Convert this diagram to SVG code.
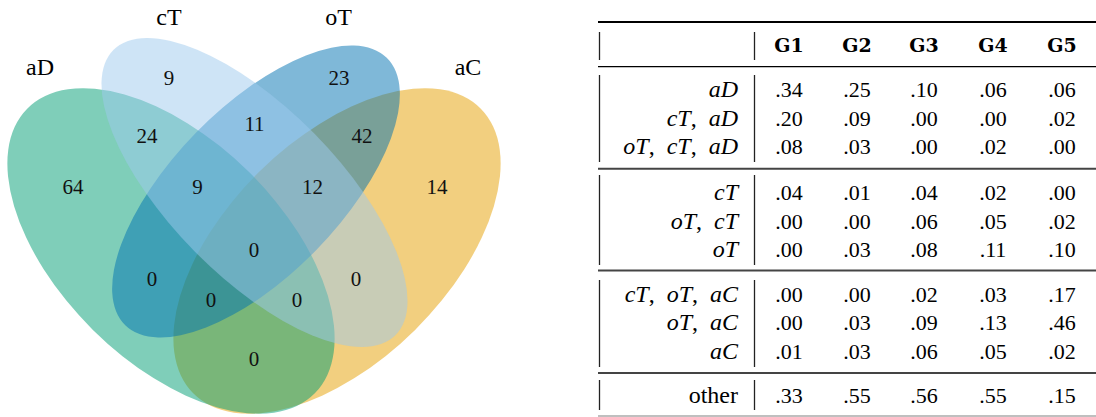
<svg xmlns="http://www.w3.org/2000/svg" width="1096" height="417" viewBox="0 0 1096 417">
<style>
.set{fill-opacity:0.5;stroke:none}
.lbl{font-family:"Liberation Serif","Times New Roman",serif;font-size:24px;fill:#000;text-anchor:middle}
.num{font-family:"Liberation Serif","Times New Roman",serif;font-size:21px;fill:#111;text-anchor:middle}
.th{font-family:"DejaVu Serif","Liberation Serif",serif;font-weight:bold;font-size:19px;fill:#000;text-anchor:middle}
.td{font-family:"Liberation Serif","Times New Roman",serif;font-size:22px;fill:#000;text-anchor:middle}
.rl{font-family:"Liberation Serif","Times New Roman",serif;font-style:italic;font-size:24px;fill:#000;text-anchor:end;word-spacing:6px}
.up{font-style:normal}
.bar{stroke:#222;stroke-width:1.3}
.sep{stroke:#444;stroke-width:2}
</style>
<rect width="1096" height="417" fill="#fff"/>
<g id="venn">
  <g id="set-aC">
    <ellipse class="set" cx="337" cy="251" rx="202.3" ry="111" transform="rotate(-44.7 337 251)" fill="#E69F00"/>
    <text class="lbl" x="468" y="75">aC</text>
  </g>
  <g id="set-aD">
    <ellipse class="set" cx="171" cy="251" rx="202.3" ry="111" transform="rotate(44.7 171 251)" fill="#009E73"/>
    <text class="lbl" x="40" y="75">aD</text>
  </g>
  <g id="set-oT">
    <ellipse class="set" cx="256" cy="191.5" rx="187" ry="84" transform="rotate(-45.65 256 191.5)" fill="#0072B2"/>
    <text class="lbl" x="338.5" y="25">oT</text>
  </g>
  <g id="set-cT">
    <ellipse class="set" cx="254.5" cy="192.5" rx="200.6" ry="84" transform="rotate(45.4 254.5 192.5)" fill="#9ECAED"/>
    <text class="lbl" x="169" y="25">cT</text>
  </g>
  <g id="counts">
    <text class="num" x="169" y="85">9</text>
    <text class="num" x="339" y="85">23</text>
    <text class="num" x="254.5" y="131">11</text>
    <text class="num" x="147" y="143">24</text>
    <text class="num" x="362" y="143">42</text>
    <text class="num" x="73" y="194">64</text>
    <text class="num" x="197.5" y="194">9</text>
    <text class="num" x="312.5" y="194">12</text>
    <text class="num" x="437" y="194">14</text>
    <text class="num" x="254" y="257">0</text>
    <text class="num" x="152" y="286">0</text>
    <text class="num" x="356" y="286">0</text>
    <text class="num" x="211" y="307">0</text>
    <text class="num" x="297" y="307">0</text>
    <text class="num" x="254" y="366">0</text>
  </g>
</g>
<g id="connectors"/>
<g id="table">
  <g id="rules">
    <line x1="598" y1="22" x2="1096" y2="22" stroke="#000" stroke-width="2"/>
    <line x1="598" y1="66.7" x2="1096" y2="66.7" stroke="#000" stroke-width="1.3"/>
    <line class="sep" x1="598" y1="168.7" x2="1096" y2="168.7"/>
    <line class="sep" x1="598" y1="270.5" x2="1096" y2="270.5"/>
    <line class="sep" x1="598" y1="373" x2="1096" y2="373"/>
    <line x1="598" y1="416" x2="1096" y2="416" stroke="#aaa" stroke-width="1.3"/>
    <line class="bar" x1="599.5" y1="32" x2="599.5" y2="60"/>
    <line class="bar" x1="754.5" y1="32" x2="754.5" y2="60"/>
    <line class="bar" x1="599.5" y1="75" x2="599.5" y2="162"/>
    <line class="bar" x1="754.5" y1="75" x2="754.5" y2="162"/>
    <line class="bar" x1="599.5" y1="175" x2="599.5" y2="265"/>
    <line class="bar" x1="754.5" y1="175" x2="754.5" y2="265"/>
    <line class="bar" x1="599.5" y1="280" x2="599.5" y2="367"/>
    <line class="bar" x1="754.5" y1="280" x2="754.5" y2="367"/>
    <line class="bar" x1="599.5" y1="380" x2="599.5" y2="410"/>
    <line class="bar" x1="754.5" y1="380" x2="754.5" y2="410"/>
  </g>
  <g id="header">
    <text class="th" x="789" y="52">G1</text>
    <text class="th" x="857" y="52">G2</text>
    <text class="th" x="924" y="52">G3</text>
    <text class="th" x="993" y="52">G4</text>
    <text class="th" x="1062" y="52">G5</text>
  </g>
  <g id="row-labels">
    <text class="rl" x="738" y="97">aD</text>
    <text class="rl" x="738" y="125.5">cT<tspan class="up">,</tspan> aD</text>
    <text class="rl" x="738" y="154">oT<tspan class="up">,</tspan> cT<tspan class="up">,</tspan> aD</text>
    <text class="rl" x="738" y="200">cT</text>
    <text class="rl" x="738" y="228.5">oT<tspan class="up">,</tspan> cT</text>
    <text class="rl" x="738" y="257">oT</text>
    <text class="rl" x="738" y="302">cT<tspan class="up">,</tspan> oT<tspan class="up">,</tspan> aC</text>
    <text class="rl" x="738" y="330">oT<tspan class="up">,</tspan> aC</text>
    <text class="rl" x="738" y="358.5">aC</text>
    <text class="rl up" x="738" y="403">other</text>
  </g>
  <g id="values">
    <text class="td" y="97"><tspan x="789">.34</tspan><tspan x="857">.25</tspan><tspan x="924">.10</tspan><tspan x="993">.06</tspan><tspan x="1062">.06</tspan></text>
    <text class="td" y="125.5"><tspan x="789">.20</tspan><tspan x="857">.09</tspan><tspan x="924">.00</tspan><tspan x="993">.00</tspan><tspan x="1062">.02</tspan></text>
    <text class="td" y="154"><tspan x="789">.08</tspan><tspan x="857">.03</tspan><tspan x="924">.00</tspan><tspan x="993">.02</tspan><tspan x="1062">.00</tspan></text>
    <text class="td" y="200"><tspan x="789">.04</tspan><tspan x="857">.01</tspan><tspan x="924">.04</tspan><tspan x="993">.02</tspan><tspan x="1062">.00</tspan></text>
    <text class="td" y="228.5"><tspan x="789">.00</tspan><tspan x="857">.00</tspan><tspan x="924">.06</tspan><tspan x="993">.05</tspan><tspan x="1062">.02</tspan></text>
    <text class="td" y="257"><tspan x="789">.00</tspan><tspan x="857">.03</tspan><tspan x="924">.08</tspan><tspan x="993">.11</tspan><tspan x="1062">.10</tspan></text>
    <text class="td" y="302"><tspan x="789">.00</tspan><tspan x="857">.00</tspan><tspan x="924">.02</tspan><tspan x="993">.03</tspan><tspan x="1062">.17</tspan></text>
    <text class="td" y="330"><tspan x="789">.00</tspan><tspan x="857">.03</tspan><tspan x="924">.09</tspan><tspan x="993">.13</tspan><tspan x="1062">.46</tspan></text>
    <text class="td" y="358.5"><tspan x="789">.01</tspan><tspan x="857">.03</tspan><tspan x="924">.06</tspan><tspan x="993">.05</tspan><tspan x="1062">.02</tspan></text>
    <text class="td" y="403"><tspan x="789">.33</tspan><tspan x="857">.55</tspan><tspan x="924">.56</tspan><tspan x="993">.55</tspan><tspan x="1062">.15</tspan></text>
  </g>
</g>
</svg>
